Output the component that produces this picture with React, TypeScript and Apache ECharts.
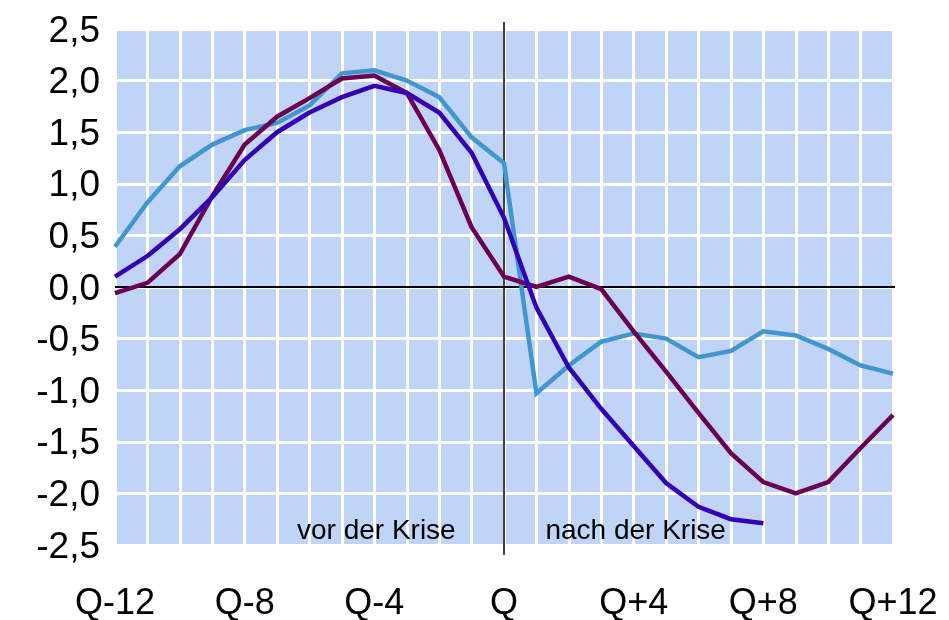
import React, { useEffect, useRef } from "react";
import * as echarts from "echarts";

const categories = [
  "Q-12", "Q-11", "Q-10", "Q-9", "Q-8", "Q-7", "Q-6", "Q-5", "Q-4", "Q-3", "Q-2", "Q-1",
  "Q", "Q+1", "Q+2", "Q+3", "Q+4", "Q+5", "Q+6", "Q+7", "Q+8", "Q+9", "Q+10", "Q+11", "Q+12",
];

const lightBlueSeries = [
  0.39, 0.82, 1.17, 1.38, 1.52, 1.59, 1.76, 2.07, 2.1, 2.0, 1.84, 1.45, 1.2,
  -1.03, -0.76, -0.53, -0.45, -0.5, -0.68, -0.62, -0.43, -0.47, -0.6, -0.76, -0.84,
];

const purpleSeries = [
  -0.06, 0.04, 0.32, 0.88, 1.38, 1.65, 1.83, 2.02, 2.05, 1.88, 1.33, 0.58, 0.1,
  0.0, 0.1, -0.02, -0.43, -0.82, -1.22, -1.61, -1.89, -2.0, -1.89, -1.56, -1.24,
];

const darkBlueSeries = [
  0.1, 0.3, 0.56, 0.87, 1.23, 1.5, 1.69, 1.84, 1.95, 1.88, 1.69, 1.3, 0.67,
  -0.2, -0.78, -1.18, -1.54, -1.9, -2.13, -2.25, -2.29, null, null, null, null,
];

const annotations = [
  { text: "vor der Krise", category: "Q-4", value: -2.5 },
  { text: "nach der Krise", category: "Q+4", value: -2.5 },
];

const crisisCategory = "Q";
const FONT = "'Liberation Sans', Arial, sans-serif";

export default function App() {
  const ref = useRef<HTMLDivElement>(null);

  useEffect(() => {
    if (!ref.current) return;
    const chart = echarts.init(ref.current, null, { renderer: "svg" });
    const line = (name: string, data: (number | null)[], color: string) => ({
      name,
      type: "line",
      data,
      symbol: "none",
      connectNulls: false,
      lineStyle: { color, width: 4.5, join: "miter" },
      itemStyle: { color },
    });
    chart.setOption({
      animation: false,
      grid: {
        left: 115,
        right: 56,
        top: 29,
        bottom: 75,
        show: true,
        backgroundColor: "#c0d4f8",
        borderWidth: 0,
        outerBoundsMode: "none",
      },
      xAxis: {
        type: "category",
        data: categories,
        boundaryGap: false,
        axisLine: { show: false },
        axisTick: { show: false },
        axisLabel: {
          interval: 3,
          color: "#000",
          fontFamily: FONT,
          fontSize: 36,
          lineHeight: 28,
          margin: 42,
        },
        splitLine: { show: true, interval: 0, lineStyle: { color: "#ffffff", width: 3 } },
      },
      yAxis: {
        type: "value",
        min: -2.5,
        max: 2.5,
        interval: 0.5,
        axisLine: { show: false },
        axisTick: { show: false },
        axisLabel: {
          color: "#000",
          fontFamily: FONT,
          fontSize: 37,
          margin: 15,
          padding: [0, 0, 7, 0],
          formatter: (v: number) => v.toFixed(1).replace(".", ","),
        },
        splitLine: { show: true, lineStyle: { color: "#ffffff", width: 3 } },
      },
      series: [
        line("Reihe 1", lightBlueSeries, "#4196d0"),
        line("Reihe 2", purpleSeries, "#6b0052"),
        line("Reihe 3", darkBlueSeries, "#3300b8"),
      ],
    });

    const qIdx = categories.indexOf(crisisCategory);
    const top = chart.convertToPixel({ gridIndex: 0 }, [qIdx, 2.5]) as number[];
    const bottom = chart.convertToPixel({ gridIndex: 0 }, [qIdx, -2.5]) as number[];
    const zl = chart.convertToPixel({ gridIndex: 0 }, [0, 0]) as number[];
    const zr = chart.convertToPixel({ gridIndex: 0 }, [categories.length - 1, 0]) as number[];

    const texts = annotations.map((a) => {
      const p = chart.convertToPixel({ gridIndex: 0 }, [categories.indexOf(a.category), a.value]) as number[];
      return {
        type: "text",
        z: 1,
        x: p[0] + 2,
        y: p[1] - 2,
        style: {
          text: a.text,
          fill: "#000",
          font: `28px ${FONT}`,
          align: "center",
          verticalAlign: "bottom",
        },
      };
    });

    chart.setOption({
      graphic: [
        {
          type: "line",
          z: 1,
          shape: { x1: zl[0], y1: zl[1], x2: zr[0] + 2, y2: zr[1] },
          style: { stroke: "#000", lineWidth: 2 },
        },
        {
          type: "line",
          z: 1,
          shape: { x1: top[0], y1: top[1] - 7, x2: bottom[0], y2: bottom[1] + 10 },
          style: { stroke: "#000", lineWidth: 1.5 },
        },
        ...texts,
      ],
    });

    return () => chart.dispose();
  }, []);

  return (
    <div
      ref={ref}
      style={{ position: "fixed", left: 0, top: 0, width: 949, height: 620 }}
    />
  );
}
